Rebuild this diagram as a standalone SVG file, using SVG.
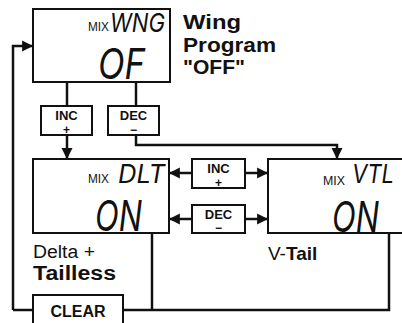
<svg xmlns="http://www.w3.org/2000/svg" width="402" height="323" viewBox="0 0 402 323">
<style>
.box{fill:#fff;stroke:#111;stroke-width:2}
.ln{fill:none;stroke:#111;stroke-width:2.5}
.lbl{font-family:"Liberation Sans",Arial,sans-serif;font-weight:bold;fill:#111}
.reg{font-family:"Liberation Sans",Arial,sans-serif;fill:#111}
.mix{font-family:"Liberation Sans",Arial,sans-serif;font-size:12px;fill:#111}
.lcd{font-family:Inter,"DejaVu Sans",sans-serif;font-style:italic;font-weight:400;fill:#111}
</style>
<defs>
<marker id="ah" viewBox="0 0 10 10" refX="9" refY="5" markerWidth="4.4" markerHeight="4.8" orient="auto" markerUnits="strokeWidth">
<path d="M0,0 L10,5 L0,10 z" fill="#111"/>
</marker>
</defs>
<rect width="402" height="323" fill="#fff"/>
<g id="connectors">
<path class="ln" d="M13,310 V46 H32" marker-end="url(#ah)"/>
<path class="ln" d="M67,82 V106"/>
<path class="ln" d="M67,135 V158" marker-end="url(#ah)"/>
<path class="ln" d="M136,82 V106"/>
<path class="ln" d="M136,135 V145 H337 V158" marker-end="url(#ah)"/>
<path class="ln" d="M192,173 H170" marker-end="url(#ah)"/>
<path class="ln" d="M245,173 H267" marker-end="url(#ah)"/>
<path class="ln" d="M192,219 H170" marker-end="url(#ah)"/>
<path class="ln" d="M245,219 H267" marker-end="url(#ah)"/>
<path class="ln" d="M13,310 H33"/>
<path class="ln" d="M123,310 H389 V233"/>
<path class="ln" d="M152,233 V310"/>
</g>
<g id="wing">
<rect class="box" x="33" y="9" width="137" height="73"/>
<text class="mix" x="88" y="31" textLength="21" lengthAdjust="spacingAndGlyphs">MIX</text>
<text class="lcd" x="110" y="32" font-size="26" textLength="55" lengthAdjust="spacingAndGlyphs">WNG</text>
<text class="lcd" x="98" y="79" font-size="42" textLength="47" lengthAdjust="spacingAndGlyphs">OF</text>
</g>
<g id="wing-label">
<text class="lbl" font-size="21" x="183" y="29" textLength="58" lengthAdjust="spacingAndGlyphs">Wing</text>
<text class="lbl" font-size="21" x="183" y="52" textLength="93" lengthAdjust="spacingAndGlyphs">Program</text>
<text class="lbl" font-size="21" x="183" y="74" textLength="62" lengthAdjust="spacingAndGlyphs">"OFF"</text>
</g>
<g id="inc-top">
<rect class="box" x="41" y="106" width="51" height="29"/>
<text class="lbl" font-size="13" x="66.5" y="119.5" text-anchor="middle">INC</text>
<text class="lbl" font-size="12" x="66.5" y="133.5" text-anchor="middle">+</text>
</g>
<g id="dec-top">
<rect class="box" x="108" y="106" width="51" height="29"/>
<text class="lbl" font-size="13" x="133.5" y="119.5" text-anchor="middle">DEC</text>
<text class="lbl" font-size="12" x="133.5" y="133.5" text-anchor="middle">−</text>
</g>
<g id="delta">
<rect class="box" x="33" y="159" width="136" height="74"/>
<text class="mix" x="88" y="183" textLength="21" lengthAdjust="spacingAndGlyphs">MIX</text>
<text class="lcd" x="118" y="183" font-size="26" textLength="47" lengthAdjust="spacingAndGlyphs">DLT</text>
<text class="lcd" x="95" y="231" font-size="42" textLength="47" lengthAdjust="spacingAndGlyphs">ON</text>
</g>
<g id="delta-label">
<text class="reg" font-size="18" x="33" y="258" textLength="62" lengthAdjust="spacingAndGlyphs">Delta +</text>
<text class="lbl" font-size="20" x="33" y="280" textLength="83" lengthAdjust="spacingAndGlyphs">Tailless</text>
</g>
<g id="inc-mid">
<rect class="box" x="192" y="159" width="53" height="29"/>
<text class="lbl" font-size="13" x="218.5" y="172.5" text-anchor="middle">INC</text>
<text class="lbl" font-size="12" x="218.5" y="186.5" text-anchor="middle">+</text>
</g>
<g id="dec-mid">
<rect class="box" x="192" y="205" width="53" height="28"/>
<text class="lbl" font-size="13" x="218.5" y="218.5" text-anchor="middle">DEC</text>
<text class="lbl" font-size="12" x="218.5" y="231.5" text-anchor="middle">−</text>
</g>
<g id="vtail">
<rect class="box" x="268" y="159" width="140" height="74"/>
<text class="mix" x="323" y="185" textLength="22" lengthAdjust="spacingAndGlyphs">MIX</text>
<text class="lcd" x="352" y="183" font-size="26" textLength="42" lengthAdjust="spacingAndGlyphs">VTL</text>
<text class="lcd" x="332" y="232" font-size="42" textLength="47" lengthAdjust="spacingAndGlyphs">ON</text>
</g>
<g id="vtail-label">
<text font-size="19" x="268" y="260"><tspan class="reg">V-</tspan><tspan class="lbl">Tail</tspan></text>
</g>
<g id="clear">
<rect class="box" x="33" y="295" width="90" height="32"/>
<text class="lbl" font-size="16" x="78" y="317" text-anchor="middle">CLEAR</text>
</g>
</svg>
